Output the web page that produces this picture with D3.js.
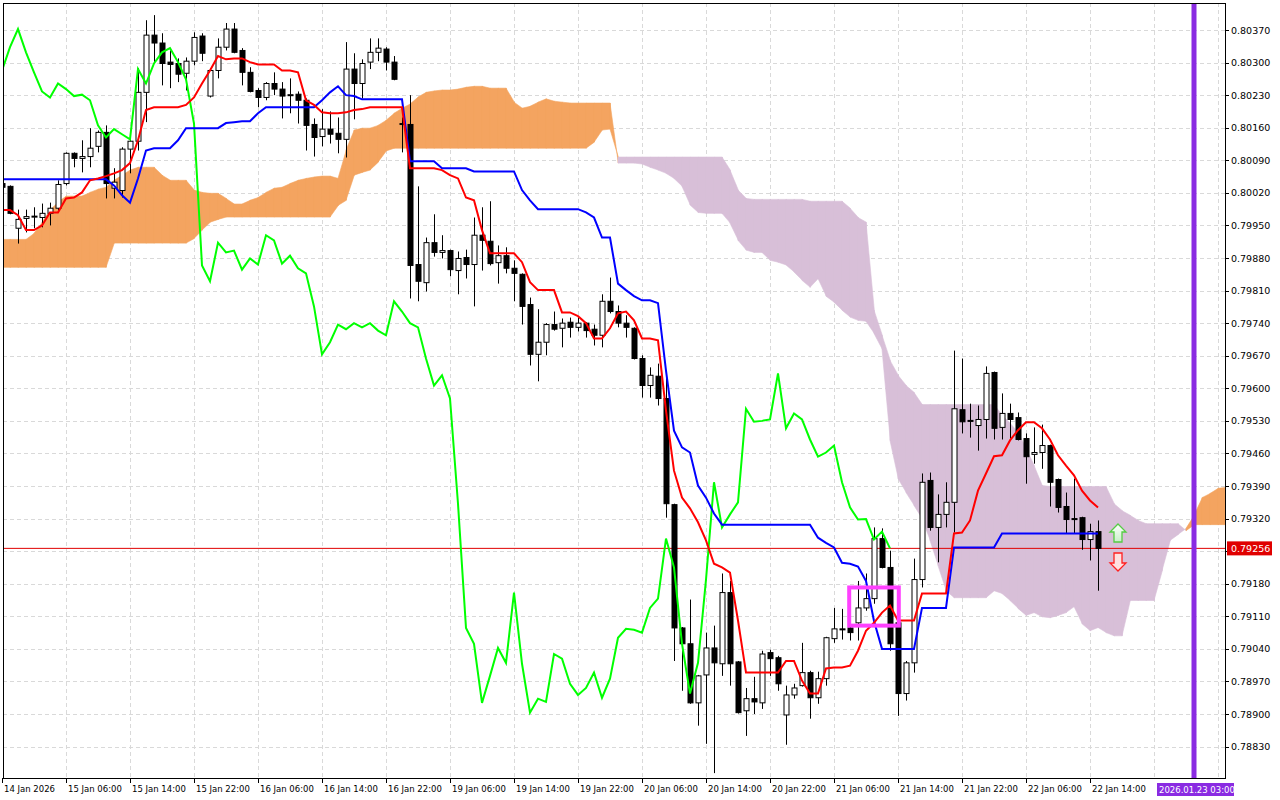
<!DOCTYPE html>
<html lang="en">
<head>
<meta charset="UTF-8">
<title>EURUSD-like Ichimoku H1</title>
<style>
  body { margin: 0; background: #fff; }
  text { font-family: "DejaVu Sans", sans-serif; font-size: 9.5px; fill: #000; }
</style>
</head>
<body>
<svg id="chart"></svg>
<script src="https://cdnjs.cloudflare.com/ajax/libs/d3/7.8.5/d3.min.js"></script>
<script>
var width = 1280, height = 800;

// candles, prices in points (1e-5)
var opens  = [80040,80034,79944,79965,79969,79967,79976,79987,80040,80105,80094,80098,80120,80150,80030,80025,80114,80131,80236,80359,80342,80301,80298,80277,80303,80357,80228,80283,80333,80372,80326,80279,80240,80225,80255,80243,80230,80232,80219,80167,80141,80157,80148,80135,80286,80255,80301,80322,80329,80301,80167,80167,79866,79827,79913,79892,79896,79853,79881,79866,79929,79916,79870,79885,79858,79845,79780,79673,79699,79737,79729,79742,79731,79740,79727,79714,79787,79765,79740,79729,79664,79606,79626,79578,79350,79085,79051,78924,78984,79042,79008,79161,79012,78907,78933,78924,79032,79021,78898,78941,78961,78989,78935,78976,79062,79083,79085,79096,79128,79148,79277,79215,79096,78944,79010,79189,79402,79301,79329,79355,79554,79531,79520,79533,79634,79516,79546,79537,79492,79458,79462,79477,79404,79346,79320,79322,79275,79292];
var highs  = [80047,80036,79984,79984,79989,79997,79999,80047,80107,80107,80133,80159,80154,80165,80073,80118,80139,80288,80391,80402,80363,80326,80309,80311,80365,80363,80288,80352,80385,80385,80331,80290,80245,80258,80279,80258,80266,80238,80223,80180,80200,80195,80182,80344,80320,80307,80352,80352,80333,80314,80182,80230,80034,79924,79974,79929,79898,79894,79898,79967,79989,80002,79907,79903,79875,79847,79795,79770,79740,79765,79750,79752,79752,79742,79737,79802,79838,79778,79757,79731,79671,79645,79653,79638,79352,79087,79146,78984,79075,79090,79202,79186,79014,78956,78980,79036,79038,79025,78961,78965,79053,78993,78991,79066,79128,79126,79122,79186,79202,79301,79299,79251,79122,79014,79234,79417,79419,79372,79398,79681,79664,79567,79563,79647,79636,79589,79567,79548,79503,79516,79522,79479,79406,79376,79406,79324,79309,79316];
var lows   = [80025,79974,79911,79935,79944,79946,79950,79982,80036,80075,80064,80075,80107,80008,80008,80010,80062,80111,80172,80301,80251,80245,80258,80240,80294,80303,80225,80266,80326,80320,80251,80236,80204,80219,80230,80180,80191,80169,80111,80098,80120,80126,80105,80096,80178,80223,80286,80303,80283,80262,80107,79793,79787,79808,79883,79879,79841,79802,79836,79776,79853,79864,79825,79847,79787,79737,79649,79615,79671,79724,79688,79709,79722,79709,79692,79688,79761,79731,79709,79662,79580,79580,79563,79322,79014,78950,78922,78875,78836,78773,78982,78961,78901,78853,78900,78911,78982,78950,78834,78933,78959,78890,78922,78961,79053,79060,79058,79058,79122,79137,79213,79036,78896,78929,78989,79172,79294,79226,79301,79290,79503,79494,79466,79492,79490,79490,79492,79488,79395,79438,79427,79346,79333,79288,79288,79253,79230,79165];
var closes = [80032,79976,79963,79969,79970,79976,79987,80038,80105,80094,80098,80116,80150,80040,80043,80114,80131,80236,80359,80342,80298,80296,80275,80303,80354,80320,80283,80333,80372,80322,80279,80238,80225,80255,80243,80228,80231,80219,80165,80139,80157,80146,80135,80286,80255,80298,80322,80331,80301,80264,80169,79864,79830,79913,79892,79896,79855,79879,79866,79929,79918,79868,79885,79858,79847,79776,79673,79699,79737,79727,79740,79731,79740,79724,79714,79787,79765,79740,79731,79664,79606,79628,79578,79352,79085,79051,78924,78982,79042,79010,79161,79008,78903,78933,78926,79029,79019,78965,78941,78956,78989,78935,78976,79064,79083,79081,79075,79128,79148,79277,79215,79051,78944,79010,79189,79398,79301,79329,79355,79556,79528,79530,79533,79632,79514,79546,79533,79490,79453,79462,79477,79398,79344,79318,79319,79275,79292,79256];

// Tenkan-sen and Kijun-sen, per bar
var tenkan = [79983,79983,79972,79940,79940,79950,79978,79978,80008,80010,80021,80047,80051,80056,80062,80069,80084,80133,80198,80204,80204,80204,80204,80209,80225,80255,80283,80314,80307,80309,80309,80301,80296,80296,80296,80283,80283,80279,80219,80209,80193,80191,80191,80193,80198,80200,80204,80204,80204,80204,80204,80073,80073,80073,80073,80069,80058,80051,80010,80004,79940,79890,79890,79890,79890,79871,79828,79811,79811,79811,79763,79763,79755,79740,79707,79707,79729,79761,79765,79746,79707,79707,79703,79552,79423,79365,79342,79312,79273,79223,79215,79204,79101,78989,78989,78989,78989,78989,79014,79014,78972,78944,78944,78998,79000,79000,79004,79036,79079,79096,79118,79133,79101,79101,79101,79159,79159,79159,79159,79288,79290,79316,79380,79417,79454,79456,79488,79510,79527,79527,79514,79490,79456,79434,79413,79380,79359,79344];
var kijun  = [80049,80049,80049,80049,80049,80049,80049,80049,80049,80049,80049,80049,80049,80049,80036,80015,79999,80051,80111,80116,80116,80116,80133,80159,80159,80159,80159,80159,80170,80172,80174,80174,80191,80204,80204,80204,80204,80204,80204,80204,80219,80236,80249,80230,80228,80221,80221,80221,80221,80221,80221,80088,80088,80088,80088,80073,80073,80073,80073,80066,80066,80066,80066,80066,80066,80026,80004,79985,79985,79985,79985,79985,79985,79978,79967,79924,79924,79825,79811,79798,79789,79789,79783,79638,79509,79473,79462,79391,79365,79331,79307,79307,79307,79307,79307,79307,79307,79307,79307,79307,79307,79307,79279,79268,79258,79225,79223,79217,79186,79100,79040,79040,79040,79040,79040,79128,79128,79128,79128,79258,79258,79258,79258,79258,79258,79288,79288,79288,79288,79288,79288,79288,79288,79288,79288,79288,79288,79288];

// Senkou span A / B as drawn (already shifted), index = bar position
var spanA = [79920,79920,79920,79920,79933,79957,79983,80000,80013,80013,80013,80021,80028,80032,80047,80058,80069,80075,80075,80075,80058,80047,80047,80047,80026,80021,80019,80019,80008,79996,79996,80004,80010,80021,80030,80032,80040,80047,80051,80054,80056,80056,80051,80112,80155,80159,80159,80165,80176,80191,80202,80211,80226,80236,80239,80241,80241,80243,80247,80249,80249,80245,80245,80245,80215,80202,80206,80215,80222,80217,80215,80213,80213,80213,80213,80213,80213,80084,80084,80084,80082,80075,80069,80062,80051,80034,79994,79978,79976,79976,79976,79955,79918,79897,79892,79892,79875,79871,79865,79850,79832,79817,79836,79798,79785,79768,79753,79746,79744,79718,79684,79488,79406,79376,79348,79320,79273,79219,79165,79150,79150,79150,79150,79150,79165,79159,79144,79127,79112,79118,79109,79107,79112,79118,79131,79094,79079,79086,79075,79068,79068,79144,79144,79144,79144,79208,79273,79286,79299,79327,79365,79374,79385,79387];
var spanB = [79860,79860,79860,79860,79860,79860,79860,79860,79860,79860,79860,79860,79860,79860,79912,79912,79912,79912,79912,79912,79912,79912,79912,79912,79922,79940,79957,79963,79968,79968,79968,79968,79968,79968,79968,79968,79968,79968,79968,79968,79968,79968,79993,80004,80058,80064,80069,80086,80110,80116,80116,80116,80116,80116,80116,80116,80116,80116,80116,80116,80116,80116,80116,80116,80116,80116,80116,80116,80116,80116,80116,80116,80116,80116,80129,80155,80157,80097,80097,80097,80097,80097,80097,80097,80097,80097,80097,80097,80097,80097,80097,80069,80026,80008,80006,80006,80006,80006,80006,80006,80006,80002,80002,80002,80002,80002,79987,79967,79957,79768,79714,79660,79628,79606,79591,79565,79565,79565,79565,79565,79565,79565,79565,79565,79565,79542,79525,79505,79471,79434,79391,79389,79389,79389,79389,79389,79389,79389,79389,79352,79337,79327,79316,79309,79309,79309,79309,79309,79294,79307,79307,79307,79307,79307];

var priceTicks = [80370,80300,80230,80160,80090,80020,79950,79880,79810,79740,79670,79600,79530,79460,79390,79320,79250,79180,79110,79040,78970,78900,78830];
var timeTicks = [0,8,16,24,32,40,48,56,64,72,80,88,96,104,112,120,128,136];
var timeLabels = ["14 Jan 2026","15 Jan 06:00","15 Jan 14:00","15 Jan 22:00","16 Jan 06:00","16 Jan 14:00","16 Jan 22:00","19 Jan 06:00","19 Jan 14:00","19 Jan 22:00","20 Jan 06:00","20 Jan 14:00","20 Jan 22:00","21 Jan 06:00","21 Jan 14:00","21 Jan 22:00","22 Jan 06:00","22 Jan 14:00"];
var bidPrice = 79256;
var futureBar = 149, futureLabel = "2026.01.23 03:00";
var markBox = {from: 105.9, to: 112.1, top: 79172, bottom: 79090};

var pL = 3, pT = 3, pR = 1225, pB = 778;
var x = d3.scaleLinear().domain([0, 137]).range([2, 1098]);
var y = d3.scaleLinear().domain([78830, 80370]).range([746.6, 30]);

var svg = d3.select("#chart").attr("width", width).attr("height", height);
var defs = svg.append("defs");
defs.append("clipPath").attr("id", "plot")
  .append("rect").attr("x", pL).attr("y", pT).attr("width", pR - pL).attr("height", pB - pT);

var g = svg.append("g").attr("clip-path", "url(#plot)");

// grid
g.selectAll(".hg").data(priceTicks).enter().append("line")
  .attr("x1", pL).attr("x2", pR)
  .attr("y1", function(d) { return Math.round(y(d)) + 0.5; })
  .attr("y2", function(d) { return Math.round(y(d)) + 0.5; })
  .attr("stroke", "#d9d9d9").attr("stroke-dasharray", "4,3");
g.selectAll(".vg").data(timeTicks.slice(1).concat([144, 152])).enter().append("line")
  .attr("y1", pT).attr("y2", pB)
  .attr("x1", function(d) { return Math.round(x(d)) + 0.5; })
  .attr("x2", function(d) { return Math.round(x(d)) + 0.5; })
  .attr("stroke", "#d9d9d9").attr("stroke-dasharray", "4,3");

// cloud, one quad per step, coloured by which span is on top
function cloudColor(j) {
  return (spanA[j] + spanA[j + 1]) >= (spanB[j] + spanB[j + 1]) ? "#f4a460" : "#d8bfd8";
}
var steps = d3.range(spanA.length - 1);
g.selectAll(".cloud").data(steps).enter().append("path")
  .attr("d", function(j) {
    return "M" + x(j) + "," + y(spanA[j]) + "L" + (x(j + 1) + 0.3) + "," + y(spanA[j + 1]) +
           "L" + (x(j + 1) + 0.3) + "," + y(spanB[j + 1]) + "L" + x(j) + "," + y(spanB[j]) + "Z";
  })
  .attr("fill", cloudColor).attr("stroke", cloudColor).attr("stroke-width", 0.6);

// bid line
g.append("line").attr("x1", pL).attr("x2", pR)
  .attr("y1", y(bidPrice)).attr("y2", y(bidPrice))
  .attr("stroke", "#e00000").attr("stroke-width", 1);

// candles
var idx = d3.range(opens.length);
var candles = g.selectAll(".c").data(idx).enter().append("g");
candles.append("line")
  .attr("x1", function(i) { return Math.round(x(i)) + 0.5; })
  .attr("x2", function(i) { return Math.round(x(i)) + 0.5; })
  .attr("y1", function(i) { return y(highs[i]); })
  .attr("y2", function(i) { return y(lows[i]); })
  .attr("stroke", "#000");
candles.append("rect")
  .attr("x", function(i) { return Math.round(x(i)) - 2; })
  .attr("width", 5)
  .attr("y", function(i) { return y(Math.max(opens[i], closes[i])); })
  .attr("height", function(i) { return Math.max(1, Math.abs(y(opens[i]) - y(closes[i]))); })
  .attr("fill", function(i) { return closes[i] >= opens[i] ? "#fff" : "#000"; })
  .attr("stroke", "#000").attr("stroke-width", 1);

// lines
function lineOf(arr) {
  return d3.line().x(function(d, i) { return x(i); }).y(function(d) { return y(d); })(arr);
}
g.append("path").attr("d", lineOf(closes.slice(26)))
  .attr("fill", "none").attr("stroke", "#00ff00").attr("stroke-width", 2);
g.append("path").attr("d", lineOf(kijun))
  .attr("fill", "none").attr("stroke", "#0000ff").attr("stroke-width", 2);
g.append("path").attr("d", lineOf(tenkan))
  .attr("fill", "none").attr("stroke", "#ff0000").attr("stroke-width", 2);

// marked rectangle
g.append("rect")
  .attr("x", x(markBox.from)).attr("width", x(markBox.to) - x(markBox.from))
  .attr("y", y(markBox.top)).attr("height", y(markBox.bottom) - y(markBox.top))
  .attr("fill", "none").attr("stroke", "#ff40ff").attr("stroke-width", 4);

// signal arrows
var ax = x(139.5);
var grad = defs.append("linearGradient").attr("id", "upg").attr("x1", 0).attr("x2", 0).attr("y1", 0).attr("y2", 1);
grad.append("stop").attr("offset", 0).attr("stop-color", "#ffffff");
grad.append("stop").attr("offset", 1).attr("stop-color", "#c8f0c8");
g.append("path")
  .attr("d", "M" + ax + ",524 l8,8 h-4 v10 h-8 v-10 h-4 z")
  .attr("fill", "url(#upg)").attr("stroke", "#55cc44").attr("stroke-width", 1.3);
g.append("path")
  .attr("d", "M" + ax + ",571 l8,-8 h-4 v-10 h-8 v10 h-4 z")
  .attr("fill", "#ffe0e0").attr("stroke", "#ff2020").attr("stroke-width", 1.3);

// future marker
g.append("line").attr("x1", x(futureBar)).attr("x2", x(futureBar))
  .attr("y1", pT).attr("y2", pB)
  .attr("stroke", "#8a2be2").attr("stroke-width", 5);

// frame
svg.append("rect").attr("x", pL + 0.5).attr("y", pT + 0.5)
  .attr("width", pR - pL).attr("height", pB - pT)
  .attr("fill", "none").attr("stroke", "#000");

// price axis
var labelTicks = priceTicks.filter(function(d) { return Math.abs(y(d) - y(bidPrice)) > 10; });
var pa = svg.append("g");
pa.selectAll("line").data(priceTicks).enter().append("line")
  .attr("x1", pR).attr("x2", pR + 4)
  .attr("y1", function(d) { return Math.round(y(d)) + 0.5; })
  .attr("y2", function(d) { return Math.round(y(d)) + 0.5; })
  .attr("stroke", "#000");
pa.selectAll("text").data(labelTicks).enter().append("text")
  .attr("x", pR + 6).attr("y", function(d) { return y(d) + 3.5; })
  .text(function(d) { return (d / 100000).toFixed(5); });
pa.append("rect").attr("x", pR + 2).attr("y", y(bidPrice) - 7)
  .attr("width", 45).attr("height", 14).attr("fill", "#e00000");
pa.append("text").attr("x", pR + 6).attr("y", y(bidPrice) + 3.5)
  .style("fill", "#fff").text((bidPrice / 100000).toFixed(5));

// time axis
var ta = svg.append("g");
ta.selectAll("line").data(timeTicks).enter().append("line")
  .attr("x1", function(d) { return Math.round(x(d)) + 0.5; })
  .attr("x2", function(d) { return Math.round(x(d)) + 0.5; })
  .attr("y1", pB).attr("y2", pB + 5)
  .attr("stroke", "#000");
ta.selectAll("text").data(timeTicks).enter().append("text")
  .attr("x", function(d) { return x(d) + 2; })
  .attr("y", pB + 14)
  .style("font-size", "8.5px")
  .text(function(d, i) { return timeLabels[i]; });
ta.append("rect").attr("x", x(futureBar) - 37).attr("y", pB + 5)
  .attr("width", 77).attr("height", 13).attr("fill", "#8a2be2");
ta.append("text").attr("x", x(futureBar) - 35).attr("y", pB + 15)
  .style("fill", "#fff").style("font-size", "8.5px").text(futureLabel);
</script>
</body>
</html>
